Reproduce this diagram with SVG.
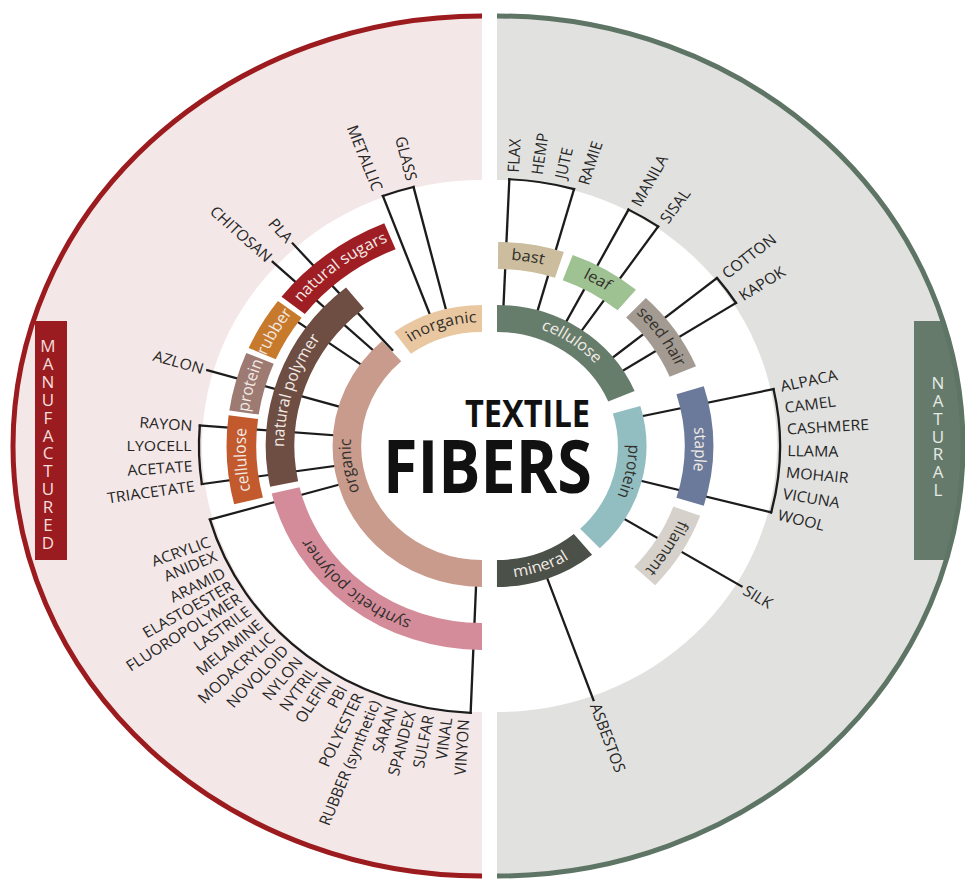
<svg xmlns="http://www.w3.org/2000/svg" width="965" height="879" viewBox="0 0 965 879">
<style>
.ln{stroke:#1c1c1c;stroke-width:2.2;fill:none;stroke-linecap:square}
.br{stroke:#1c1c1c;stroke-width:2.2;fill:none;stroke-linecap:square}
.band{fill:none}
.lbl{font-family:"Open Sans","Liberation Sans",sans-serif;font-size:15px;fill:#262626}
.lblL{text-anchor:end}
.ring{font-family:"Open Sans","Liberation Sans",sans-serif;font-size:15.5px;text-anchor:middle}
.dk{fill:#33302c}
.lt{fill:#f2ebe6}
.side{font-family:"Open Sans","Liberation Sans",sans-serif;font-size:17px;writing-mode:vertical-rl;text-orientation:upright}
.title{font-family:"Open Sans","Liberation Sans",sans-serif;font-weight:700;fill:#111}
</style>
<defs>
<path id="a1" d="M-122.1,-21.5 A124,124 0 0 1 122.1,-21.5"/>
<path id="a2" d="M-183.7,-32.4 A186.5,186.5 0 0 1 183.7,-32.4"/>
<path id="a3" d="M-219.6,-38.7 A223,223 0 0 1 219.6,-38.7"/>
<path id="a1m" d="M-130,22.9 A132,132 0 0 0 130,22.9"/>
<clipPath id="clipR"><path d="M497,16 A466,430 0 0 1 497,876 Z"/></clipPath>
</defs>

<g id="background">
<path d="M482,16 A469,430 0 0 0 482,876 Z" fill="#f4e7e7"/>
<path d="M497,16 A466,430 0 0 1 497,876 Z" fill="#e1e1df"/>
<path d="M482,180 A280,266 0 0 0 482,712 Z" fill="#fff"/>
<path d="M497,180 A280,266 0 0 1 497,712 Z" fill="#fff"/>
<rect x="35" y="321" width="32" height="239" fill="#9b1c20"/>
<rect x="914" y="321" width="60" height="239" fill="#667a6c" clip-path="url(#clipR)"/>
<path d="M482,16 A469,430 0 0 0 482,876" fill="none" stroke="#9c1b1e" stroke-width="5"/>
<path d="M497,16 A466,430 0 0 1 497,876" fill="none" stroke="#5e7566" stroke-width="5"/>
</g>

<g id="side-manufactured">
<text class="side" fill="#f5dede" x="48" y="334" textLength="220" lengthAdjust="spacing">MANUFACTURED</text>
</g>
<g id="side-natural">
<text class="side" fill="#e4ebe5" x="938" y="371" textLength="130" lengthAdjust="spacing">NATURAL</text>
</g>

<g id="connectors">
<g transform="translate(497,446) scale(1.06,1)">
<line class="ln" y1="-128" y2="-267" transform="rotate(2.5)"/>
<line class="ln" y1="-128" y2="-267" transform="rotate(15.8)"/>
<circle class="br" r="267" stroke-dasharray="62 3000" transform="rotate(-87.5)"/>
<line class="ln" y1="-128" y2="-267" transform="rotate(27.7)"/>
<line class="ln" y1="-128" y2="-267" transform="rotate(34.7)"/>
<circle class="br" r="267" stroke-dasharray="32.6 3000" transform="rotate(-62.3)"/>
<line class="ln" y1="-128" y2="-267" transform="rotate(51)"/>
<line class="ln" y1="-128" y2="-267" transform="rotate(57.6)"/>
<circle class="br" r="267" stroke-dasharray="30.8 3000" transform="rotate(-39)"/>
<line class="ln" y1="-128" y2="-267" transform="rotate(77.7)"/>
<line class="ln" y1="-128" y2="-267" transform="rotate(104.4)"/>
<circle class="br" r="267" stroke-dasharray="124.4 3000" transform="rotate(-12.3)"/>
<line class="ln" y1="-128" y2="-270" transform="rotate(121.3)"/>
<line class="ln" y1="-128" y2="-270" transform="rotate(160.3)"/>
</g>
<g transform="translate(482,446) scale(1.06,1)">
<line class="ln" y1="-128" y2="-267" transform="rotate(339.5)"/>
<line class="ln" y1="-128" y2="-267" transform="rotate(346)"/>
<circle class="br" r="267" stroke-dasharray="30.3 3000" transform="rotate(249.5)"/>
<line class="ln" y1="-128" y2="-270" transform="rotate(313)"/>
<line class="ln" y1="-128" y2="-270" transform="rotate(318.6)"/>
<line class="ln" y1="-128" y2="-225" transform="rotate(305.5)"/>
<line class="ln" y1="-128" y2="-270" transform="rotate(286.3)"/>
<line class="ln" y1="-128" y2="-267" transform="rotate(261.8)"/>
<line class="ln" y1="-128" y2="-267" transform="rotate(274.4)"/>
<circle class="br" r="267" stroke-dasharray="58.7 3000" transform="rotate(171.8)"/>
<line class="ln" y1="-128" y2="-267" transform="rotate(182.3)"/>
<line class="ln" y1="-128" y2="-267" transform="rotate(254)"/>
<circle class="br" r="267" stroke-dasharray="334.1 3000" transform="rotate(92.3)"/>
</g>
</g>

<g id="natural" transform="translate(497,446) scale(1.06,1)">
<g id="n-cellulose">
<circle class="band" r="127.5" stroke="#677d6b" stroke-width="27" stroke-dasharray="149.1 3000" transform="rotate(-90)"/>
<text class="ring lt" transform="rotate(34)"><textPath href="#a1" startOffset="50%">cellulose</textPath></text>
</g>
<g id="n-protein">
<circle class="band" r="127.5" stroke="#92bec1" stroke-width="27" stroke-dasharray="140.2 3000" transform="rotate(-16.5)"/>
<text class="ring dk" transform="rotate(101.5)"><textPath href="#a1" startOffset="50%">protein</textPath></text>
</g>
<g id="n-mineral">
<circle class="band" r="127.5" stroke="#4b5049" stroke-width="27" stroke-dasharray="87.9 3000" transform="rotate(50.5)"/>
<text class="ring lt" transform="rotate(-19)"><textPath href="#a1m" startOffset="50%">mineral</textPath></text>
</g>
<g id="n-bast">
<circle class="band" r="190.5" stroke="#cbbd9d" stroke-width="27" stroke-dasharray="58.9 3000" transform="rotate(-89.7)"/>
<text class="ring dk" transform="rotate(8.8)"><textPath href="#a2" startOffset="50%">bast</textPath></text>
</g>
<g id="n-leaf">
<circle class="band" r="190.5" stroke="#9ec292" stroke-width="27" stroke-dasharray="64.8 3000" transform="rotate(-69.5)"/>
<text class="ring dk" transform="rotate(29.7)"><textPath href="#a2" startOffset="50%">leaf</textPath></text>
</g>
<g id="n-seedhair">
<circle class="band" r="190.5" stroke="#a39b92" stroke-width="27" stroke-dasharray="78.1 3000" transform="rotate(-46.5)"/>
<text class="ring dk" transform="rotate(54.8)"><textPath href="#a2" startOffset="50%">seed hair</textPath></text>
</g>
<g id="n-staple">
<circle class="band" r="190.5" stroke="#6b7a9a" stroke-width="27" stroke-dasharray="113 3000" transform="rotate(-17)"/>
<text class="ring lt" transform="rotate(91)"><textPath href="#a2" startOffset="50%">staple</textPath></text>
</g>
<g id="n-filament">
<circle class="band" r="190.5" stroke="#d6d2cb" stroke-width="27" stroke-dasharray="76.5 3000" transform="rotate(20)"/>
<text class="ring dk" transform="rotate(122.5)"><textPath href="#a2" startOffset="50%">filament</textPath></text>
</g>
<g id="n-labels" class="lbl">
<text transform="rotate(3.2) translate(0,-274) rotate(-90)" dy="0.35em">FLAX</text>
<text transform="rotate(7.9) translate(0,-274) rotate(-90)" dy="0.35em">HEMP</text>
<text transform="rotate(12.6) translate(0,-274) rotate(-90)" dy="0.35em">JUTE</text>
<text transform="rotate(17.3) translate(0,-274) rotate(-90)" dy="0.35em">RAMIE</text>
<text transform="rotate(28.5) translate(0,-274) rotate(-90)" dy="0.35em">MANILA</text>
<text transform="rotate(35) translate(0,-274) rotate(-90)" dy="0.35em">SISAL</text>
<text transform="rotate(51.4) translate(0,-274) rotate(-90)" dy="0.35em">COTTON</text>
<text transform="rotate(57) translate(0,-274) rotate(-90)" dy="0.35em">KAPOK</text>
<text transform="rotate(77.5) translate(0,-274) rotate(-90)" dy="0.35em">ALPACA</text>
<text transform="rotate(82) translate(0,-274) rotate(-90)" dy="0.35em">CAMEL</text>
<text transform="rotate(86.5) translate(0,-274) rotate(-90)" dy="0.35em">CASHMERE</text>
<text transform="rotate(91) translate(0,-274) rotate(-90)" dy="0.35em">LLAMA</text>
<text transform="rotate(95.5) translate(0,-274) rotate(-90)" dy="0.35em">MOHAIR</text>
<text transform="rotate(100) translate(0,-274) rotate(-90)" dy="0.35em">VICUNA</text>
<text transform="rotate(104.5) translate(0,-274) rotate(-90)" dy="0.35em">WOOL</text>
<text transform="rotate(121.5) translate(0,-274) rotate(-90)" dy="0.35em">SILK</text>
<text transform="rotate(160.3) translate(0,-274) rotate(-90)" dy="0.35em">ASBESTOS</text>
</g>
</g>

<g id="manufactured" transform="translate(482,446) scale(1.06,1)">
<g id="m-organic">
<circle class="band" r="127.5" stroke="#c99b8c" stroke-width="27" stroke-dasharray="307.1 3000" transform="rotate(90)"/>
<text class="ring dk" transform="rotate(261)"><textPath href="#a1" startOffset="50%">organic</textPath></text>
</g>
<g id="m-inorganic">
<circle class="band" r="127.5" stroke="#e9c7a0" stroke-width="27" stroke-dasharray="80.1 3000" transform="rotate(234)"/>
<text class="ring dk" transform="rotate(342.3)"><textPath href="#a1" startOffset="50%">inorganic</textPath></text>
</g>
<g id="m-synthetic">
<circle class="band" r="190.5" stroke="#d48c9a" stroke-width="27" stroke-dasharray="254.3 3000" transform="rotate(90)"/>
<text class="ring dk" transform="rotate(220.7)"><textPath href="#a2" startOffset="50%">synthetic polymer</textPath></text>
</g>
<g id="m-naturalpolymer">
<circle class="band" r="190.5" stroke="#6e4d42" stroke-width="27" stroke-dasharray="207.8 3000" transform="rotate(168.5)"/>
<text class="ring lt" transform="rotate(287.5)"><textPath href="#a2" startOffset="50%">natural polymer</textPath></text>
</g>
<g id="m-cellulose">
<circle class="band" r="227" stroke="#c35a2d" stroke-width="28" stroke-dasharray="84.4 3000" transform="rotate(166)"/>
<text class="ring lt" transform="rotate(266.5)"><textPath href="#a3" startOffset="50%">cellulose</textPath></text>
</g>
<g id="m-protein">
<circle class="band" r="227" stroke="#9d7a72" stroke-width="28" stroke-dasharray="56.3 3000" transform="rotate(188.5)"/>
<text class="ring lt" transform="rotate(285.5)"><textPath href="#a3" startOffset="50%">protein</textPath></text>
</g>
<g id="m-rubber">
<circle class="band" r="227" stroke="#c87a2c" stroke-width="28" stroke-dasharray="51.5 3000" transform="rotate(204)"/>
<text class="ring lt" transform="rotate(300.3)"><textPath href="#a3" startOffset="50%">rubber</textPath></text>
</g>
<g id="m-naturalsugars">
<circle class="band" r="227" stroke="#9f1e24" stroke-width="28" stroke-dasharray="115.7 3000" transform="rotate(218.3)"/>
<text class="ring lt" transform="rotate(323.3)"><textPath href="#a3" startOffset="50%">natural sugars</textPath></text>
</g>
<g id="m-labels" class="lbl lblL">
<text transform="rotate(339) translate(0,-274) rotate(90)" dy="0.35em">METALLIC</text>
<text transform="rotate(346) translate(0,-274) rotate(90)" dy="0.35em">GLASS</text>
<text transform="rotate(313) translate(0,-274) rotate(90)" dy="0.35em">CHITOSAN</text>
<text transform="rotate(318.6) translate(0,-274) rotate(90)" dy="0.35em">PLA</text>
<text transform="rotate(286.3) translate(0,-274) rotate(90)" dy="0.35em">AZLON</text>
<text transform="rotate(274.2) translate(0,-274) rotate(90)" dy="0.35em">RAYON</text>
<text transform="rotate(270) translate(0,-274) rotate(90)" dy="0.35em">LYOCELL</text>
<text transform="rotate(265.8) translate(0,-274) rotate(90)" dy="0.35em">ACETATE</text>
<text transform="rotate(261.6) translate(0,-274) rotate(90)" dy="0.35em">TRIACETATE</text>
<text transform="rotate(249.6) translate(0,-274) rotate(90)" dy="0.35em">ACRYLIC</text>
<text transform="rotate(246.4) translate(0,-274) rotate(90)" dy="0.35em">ANIDEX</text>
<text transform="rotate(242.6) translate(0,-274) rotate(90)" dy="0.35em">ARAMID</text>
<text transform="rotate(239.5) translate(0,-274) rotate(90)" dy="0.35em">ELASTOESTER</text>
<text transform="rotate(236.5) translate(0,-274) rotate(90)" dy="0.35em">FLUOROPOLYMER</text>
<text transform="rotate(233.3) translate(0,-274) rotate(90)" dy="0.35em">LASTRILE</text>
<text transform="rotate(229.8) translate(0,-274) rotate(90)" dy="0.35em">MELAMINE</text>
<text transform="rotate(226.2) translate(0,-274) rotate(90)" dy="0.35em">MODACRYLIC</text>
<text transform="rotate(222.6) translate(0,-274) rotate(90)" dy="0.35em">NOVOLOID</text>
<text transform="rotate(219) translate(0,-274) rotate(90)" dy="0.35em">NYLON</text>
<text transform="rotate(215.5) translate(0,-274) rotate(90)" dy="0.35em">NYTRIL</text>
<text transform="rotate(212.1) translate(0,-274) rotate(90)" dy="0.35em">OLEFIN</text>
<text transform="rotate(208.6) translate(0,-274) rotate(90)" dy="0.35em">PBI</text>
<text transform="rotate(205.1) translate(0,-274) rotate(90)" dy="0.35em">POLYESTER</text>
<text transform="rotate(201.5) translate(0,-274) rotate(90)" dy="0.35em">RUBBER (synthetic)</text>
<text transform="rotate(197.9) translate(0,-274) rotate(90)" dy="0.35em">SARAN</text>
<text transform="rotate(194.3) translate(0,-274) rotate(90)" dy="0.35em">SPANDEX</text>
<text transform="rotate(190.6) translate(0,-274) rotate(90)" dy="0.35em">SULFAR</text>
<text transform="rotate(187) translate(0,-274) rotate(90)" dy="0.35em">VINAL</text>
<text transform="rotate(183.6) translate(0,-274) rotate(90)" dy="0.35em">VINYON</text>
</g>
</g>

<g id="title">
<text class="title" x="465" y="427" font-size="38" textLength="125" lengthAdjust="spacingAndGlyphs">TEXTILE</text>
<text class="title" x="383" y="493" font-size="74" textLength="209" lengthAdjust="spacingAndGlyphs">FIBERS</text>
</g>
</svg>
